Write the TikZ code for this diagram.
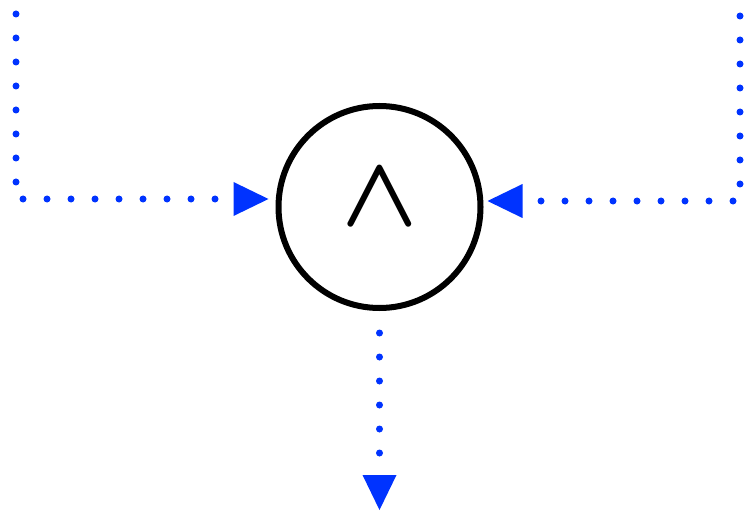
\documentclass[tikz,border=0pt]{standalone}
\usepackage{fontspec}
\usetikzlibrary{arrows.meta}
\definecolor{flowblue}{RGB}{0,51,255}
\begin{document}
\begin{tikzpicture}[x=1pt,y=-1pt,
  flow/.style={draw=flowblue,line width=7pt,line cap=round,dash pattern=on 0pt off 24pt,
    -{Triangle[length=35pt,width=34pt,line width=0pt,round=false]}},
  gate/.style={circle,draw=black,line width=6pt,minimum size=202pt,inner sep=0pt}]
\useasboundingbox (0,0) rectangle (749,513);
\node[gate] (and) at (379.5,207) {};
\node[inner sep=0pt] (sym) at (380,197.5) {\scalebox{10}[10]{\boldmath$\wedge$}};
\coordinate (lstart) at (16,14);
\coordinate (rstart) at (740,16);
\coordinate (bstart) at (379.5,333);
\coordinate (ltip) at ([xshift=-7pt,yshift=8pt]and.west);
\coordinate (rtip) at ([xshift=4pt,yshift=6pt]and.east);
\coordinate (btip) at (379.5,510);
\draw[flow] (lstart) |- (ltip);
\draw[flow] (rstart) |- (rtip);
\draw[flow] (bstart) -- (btip);
\end{tikzpicture}
\end{document}
